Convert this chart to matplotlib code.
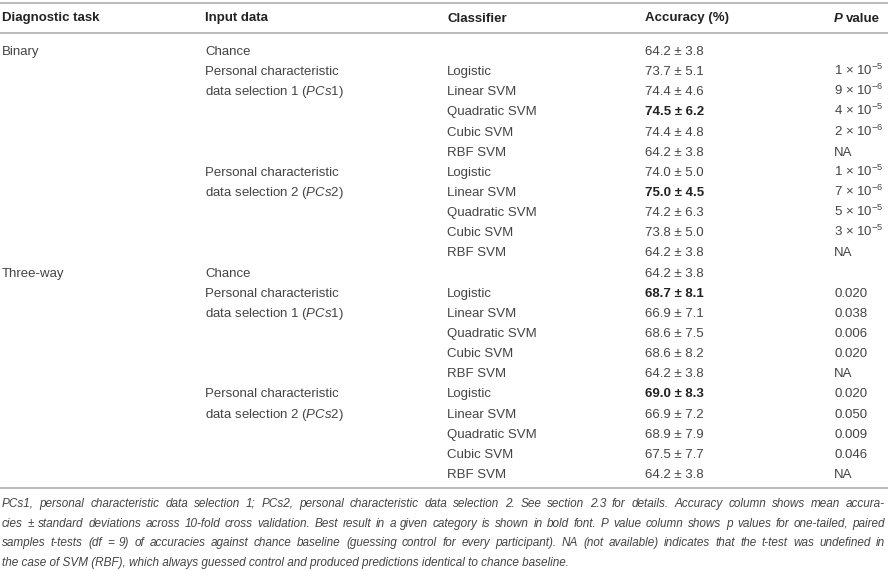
import matplotlib
matplotlib.use("Agg")
import matplotlib.pyplot as plt

plt.rcParams['font.family'] = ['Liberation Sans', 'DejaVu Sans']
plt.rcParams['mathtext.fontset'] = 'custom'
plt.rcParams['mathtext.rm'] = 'Liberation Sans'
plt.rcParams['mathtext.it'] = 'Liberation Sans:italic'
plt.rcParams['mathtext.bf'] = 'Liberation Sans:bold'

# table content
headers = ["Diagnostic task", "Input data", "Classifier", "Accuracy (%)", "value"]
tasks = ["Binary"] + [""] * 10 + ["Three-way"] + [""] * 10
inputs = ["Chance", "Personal characteristic", "data selection 1 ($\\it{PCs}$1)", "", "", "",
          "Personal characteristic", "data selection 2 ($\\it{PCs}$2)", "", "", "",
          "Chance", "Personal characteristic", "data selection 1 ($\\it{PCs}$1)", "", "", "",
          "Personal characteristic", "data selection 2 ($\\it{PCs}$2)", "", "", ""]
clfs = ["", "Logistic", "Linear SVM", "Quadratic SVM", "Cubic SVM", "RBF SVM",
        "Logistic", "Linear SVM", "Quadratic SVM", "Cubic SVM", "RBF SVM",
        "", "Logistic", "Linear SVM", "Quadratic SVM", "Cubic SVM", "RBF SVM",
        "Logistic", "Linear SVM", "Quadratic SVM", "Cubic SVM", "RBF SVM"]
acc_mean = [64.2, 73.7, 74.4, 74.5, 74.4, 64.2, 74.0, 75.0, 74.2, 73.8, 64.2,
            64.2, 68.7, 66.9, 68.6, 68.6, 64.2, 69.0, 66.9, 68.9, 67.5, 64.2]
acc_sd = [3.8, 5.1, 4.6, 6.2, 4.8, 3.8, 5.0, 4.5, 6.3, 5.0, 3.8,
          3.8, 8.1, 7.1, 7.5, 8.2, 3.8, 8.3, 7.2, 7.9, 7.7, 3.8]
best = [False, False, False, True, False, False, False, True, False, False, False,
        False, True, False, False, False, False, True, False, False, False, False]
pvals = ["", "1e-5", "9e-6", "4e-5", "2e-6", "NA", "1e-5", "7e-6", "5e-5", "3e-5", "NA",
         "", "0.020", "0.038", "0.006", "0.020", "NA", "0.020", "0.050", "0.009", "0.046", "NA"]

caption = ("PCs1, personal characteristic data selection 1; PCs2, personal characteristic data selection 2. "
           "See section 2.3 for details. Accuracy column shows mean accura-|cies \u00b1 standard deviations "
           "across 10-fold cross validation. Best result in a given category is shown in bold font. P value "
           "column shows p values for one-tailed, paired|samples t-tests (df = 9) of accuracies against chance "
           "baseline (guessing control for every participant). NA (not available) indicates that the t-test "
           "was undefined in|the case of SVM (RBF), which always guessed control and produced predictions "
           "identical to chance baseline.")

W, H = 888, 571
fig = plt.figure(figsize=(W / 100, H / 100), dpi=100)
ax = fig.add_axes([0, 0, 1, 1])
ax.set_xlim(0, W)
ax.set_ylim(H, 0)
ax.axis('off')

body = '#444444'
head = '#222222'
rule = '#b4b4b4'
fs = 9.5

for y in (3, 33, 488):
    ax.axhline(y, color=rule, lw=1.3)

cols = [2, 205, 447, 645, 834]
for x, h in zip(cols[:4], headers[:4]):
    ax.text(x, 21.5, h, fontsize=fs, fontweight='bold', color=head, va='baseline')
ax.text(cols[4], 21.5, "P", fontsize=fs, fontweight='bold', style='italic', color=head, va='baseline')
ax.text(cols[4] + 11.5, 21.5, headers[4], fontsize=fs, fontweight='bold', color=head, va='baseline')


def pfmt(p):
    if "e" in p:
        m, e = p.split("e")
        return "%s \u00d7 $10^{%s}$" % (m, e.replace("-", "\u2212"))
    return p


y0, dy = 55, 20.14
for i in range(len(clfs)):
    y = y0 + i * dy
    ax.text(cols[0], y, tasks[i], fontsize=fs, color=body, va='baseline')
    ax.text(cols[1], y, inputs[i], fontsize=fs, color=body, va='baseline')
    ax.text(cols[2], y, clfs[i], fontsize=fs, color=body, va='baseline')
    acc = "%.1f \u00b1 %.1f" % (acc_mean[i], acc_sd[i])
    ax.text(cols[3], y, acc, fontsize=fs, color=head if best[i] else body,
            fontweight='bold' if best[i] else 'normal', va='baseline')
    ax.text(cols[4], y, pfmt(pvals[i]), fontsize=fs, color=body, va='baseline')

# caption, justified by hand
cap_fs = 8.5
cap_font = ['Liberation Sans Narrow', 'Liberation Sans']
lines = caption.split("|")
fig.canvas.draw()
r = fig.canvas.get_renderer()
x_left, x_right = 2, 885
for k, line in enumerate(lines):
    y = 507 + k * 19.7
    words = line.split(" ")
    if k == len(lines) - 1:
        ax.text(x_left, y, line, fontsize=cap_fs, family=cap_font, style='italic',
                color=body, va='baseline')
        continue
    ts = [ax.text(0, y, w, fontsize=cap_fs, family=cap_font, style='italic',
                  color=body, va='baseline') for w in words]
    widths = [t.get_window_extent(r).width for t in ts]
    gap = (x_right - x_left - sum(widths)) / (len(words) - 1)
    x = x_left
    for t, w in zip(ts, widths):
        t.set_x(x)
        x += w + gap

fig.savefig("out.png", dpi=100)
